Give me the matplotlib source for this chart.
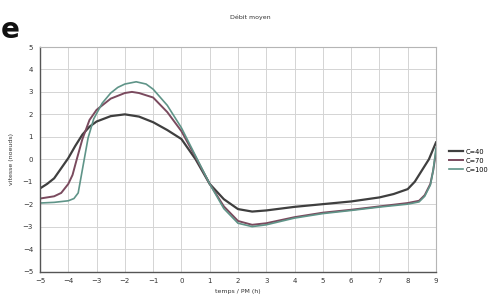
import matplotlib
matplotlib.use("Agg")
import matplotlib.pyplot as plt

title = "Débit moyen"
xlabel = "temps / PM (h)"
ylabel = "vitesse (noeuds)"
labels = ["C=40", "C=70", "C=100"]

x40 = [-5, -4.75, -4.5, -4.25, -4, -3.75, -3.5, -3.25, -3, -2.5, -2, -1.5, -1, -0.5, 0, 0.5, 1, 1.5, 2, 2.5, 3, 4, 5, 6, 7, 7.5, 8, 8.25, 8.5, 8.75, 9]
y40 = [-1.3, -1.1, -0.85, -0.4, 0.05, 0.6, 1.1, 1.45, 1.68, 1.92, 2.0, 1.9, 1.65, 1.3, 0.9, 0.0, -1.1, -1.78, -2.22, -2.33, -2.28, -2.12, -2.0, -1.88, -1.7, -1.55, -1.33, -1.0, -0.5, 0.0, 0.75]

x70 = [-5, -4.5, -4.25, -4, -3.85, -3.7, -3.5, -3.25, -3, -2.5, -2, -1.75, -1.5, -1, -0.5, 0, 0.5, 1, 1.5, 2, 2.5, 3, 4, 5, 6, 7, 8, 8.4, 8.6, 8.8, 8.9, 9]
y70 = [-1.75, -1.65, -1.5, -1.1, -0.7, 0.0, 0.9, 1.75, 2.2, 2.7, 2.95, 3.0, 2.95, 2.75, 2.1, 1.25, 0.1, -1.1, -2.1, -2.75, -2.92, -2.85, -2.58, -2.38, -2.25, -2.1, -1.95, -1.85, -1.6, -1.1, -0.5, 0.3]

x100 = [-5, -4.5, -4, -3.8, -3.65, -3.55, -3.45, -3.3, -3.1, -2.8, -2.5, -2.25, -2, -1.6, -1.25, -1, -0.5, 0, 0.5, 1, 1.5, 2, 2.5, 3, 4, 5, 6, 7, 8, 8.4, 8.6, 8.8, 8.9, 9]
y100 = [-1.95, -1.92, -1.85, -1.75, -1.5, -0.8, -0.1, 0.95, 1.8, 2.5, 2.95, 3.2, 3.35, 3.45, 3.35, 3.12, 2.4, 1.4, 0.15, -1.1, -2.2, -2.85, -3.0, -2.92, -2.62, -2.42, -2.28, -2.13, -2.0, -1.9, -1.65, -1.15, -0.5, 0.5]

xticks = list(range(-5, 10))
yticks = list(range(-5, 6))

fig = plt.figure(figsize=(5.01, 3.02), dpi=100)
ax = fig.add_axes([40/501, 1 - 271.5/302, (436 - 40)/501, (271.5 - 47)/302])

ax.plot(x40, y40, color="#3f3f3f", lw=1.6, label=labels[0], solid_joinstyle="round")
ax.plot(x70, y70, color="#7a4a5e", lw=1.4, label=labels[1], solid_joinstyle="round")
ax.plot(x100, y100, color="#5f9488", lw=1.2, label=labels[2], solid_joinstyle="round")

ax.set_xlim(-5, 9)
ax.set_ylim(-5, 5)
ax.set_xticks(xticks)
ax.set_yticks(yticks)
ax.tick_params(length=0, labelsize=5, pad=5, colors="#333333")
ax.grid(True, color="#d4d4d4", lw=0.7)
ax.set_axisbelow(True)
for s in ["left", "bottom"]:
    ax.spines[s].set_color("#555555")
    ax.spines[s].set_linewidth(1.0)
for s in ["top", "right"]:
    ax.spines[s].set_color("#b5b5b5")
    ax.spines[s].set_linewidth(0.8)

ax.set_xlabel(xlabel, fontsize=4.5, color="#333333", labelpad=3)
ax.set_ylabel(ylabel, fontsize=4.5, color="#333333", labelpad=6)
fig.text(250/501, 1 - 17/302, title, fontsize=4.5, color="#333333", ha="center", va="center")
fig.text(1/501, 1 - 30/302, "e", fontsize=20, fontweight="bold", color="#111111", ha="left", va="center")

fig.legend(loc="upper left", bbox_to_anchor=(444/501, 1 - 144/302), frameon=False,
           fontsize=4.8, handlelength=2.2, handletextpad=0.3, labelspacing=0.45,
           borderpad=0.2)

fig.savefig("out.png", dpi=100, facecolor="white")
